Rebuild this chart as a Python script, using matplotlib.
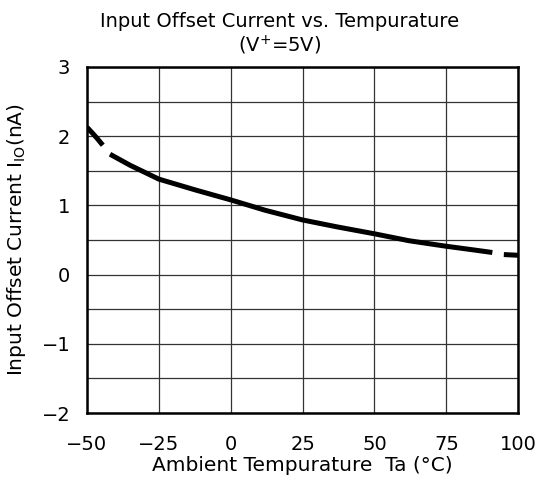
import matplotlib.pyplot as plt

# curve, two gaps in the trace
seg1_temp = [-50, -48, -46.5, -44.5]
seg1_iio = [2.13, 2.04, 1.97, 1.87]
seg2_temp = [-42, -35, -25, -12, 0, 12, 25, 37, 50, 62, 75, 84, 91]
seg2_iio = [1.74, 1.58, 1.38, 1.22, 1.08, 0.93, 0.79, 0.69, 0.59, 0.49, 0.41, 0.36, 0.32]
seg3_temp = [95, 100]
seg3_iio = [0.29, 0.28]

xticks = [-50, -25, 0, 25, 50, 75, 100]
yticks = [-2, -1, 0, 1, 2, 3]

plt.rcParams['font.family'] = ['DejaVu Sans']
fig = plt.figure(figsize=(5.37, 4.82), dpi=100)
ax = fig.add_axes([0.162, 0.143, 0.803, 0.718])

for t, v in [(seg1_temp, seg1_iio), (seg2_temp, seg2_iio), (seg3_temp, seg3_iio)]:
    ax.plot(t, v, color='black', lw=3.6, solid_capstyle='butt', zorder=3)

ax.set_xlim(-50, 100)
ax.set_ylim(-2, 3)
ax.set_xticks(xticks)
ax.set_yticks(yticks)
ax.set_yticks([y + 0.5 for y in yticks[:-1]], minor=True)
ax.grid(True, which='both', color='#333333', lw=0.9)
ax.tick_params(which='both', length=0, labelsize=14)
ax.tick_params(axis='x', pad=16)
ax.tick_params(axis='y', pad=12)
for s in ax.spines.values():
    s.set_linewidth(1.8)

ax.set_xlabel('Ambient Tempurature  Ta (°C)', fontsize=14.5, labelpad=1)
ax.set_ylabel('Input Offset Current I$_{\\mathregular{IO}}$(nA)', fontsize=14.5, labelpad=10)

fig.text(0.52, 0.955, 'Input Offset Current vs. Tempurature', ha='center', va='center', fontsize=14)
fig.text(0.52, 0.905, '(V$^{\\mathregular{+}}$=5V)', ha='center', va='center', fontsize=14)

fig.savefig('out.png', dpi=100)
